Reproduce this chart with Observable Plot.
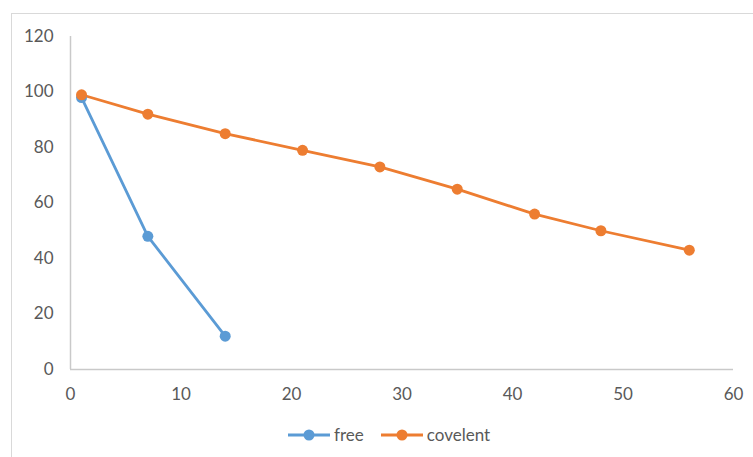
<!DOCTYPE html>
<html>
<head>
<meta charset="utf-8">
<script src="https://cdn.jsdelivr.net/npm/d3@7"></script>
<script src="https://cdn.jsdelivr.net/npm/@observablehq/plot@0.6"></script>
<style>
  html, body { margin: 0; padding: 0; background: #fff; }
  body { width: 753px; height: 457px; position: relative; overflow: hidden; font-family: Lato, "Open Sans", sans-serif; }
  #frame { position: absolute; left: 11px; top: 13px; width: 760px; height: 480px; border: 1.5px solid #D9D9D9; box-sizing: border-box; }
  #chart { position: absolute; left: 0; top: 0; }
  #legend { position: absolute; left: 288px; top: 424px; display: flex; align-items: center; font-size: 17px; color: #595959; }
  #legend .item { display: flex; align-items: center; margin-right: 17px; }
  #legend svg { margin-right: 4px; }
</style>
</head>
<body>
<div id="frame"></div>
<div id="chart"></div>
<div id="legend"></div>
<script>
// Days sampled and remaining activity (%) for each preparation
const freeDays = [1, 7, 14];
const freeValues = [98, 48, 12];
const covDays = [1, 7, 14, 21, 28, 35, 42, 48, 56];
const covValues = [99, 92, 85, 79, 73, 65, 56, 50, 43];
const seriesNames = ["free", "covelent"];
const seriesColors = ["#5B9BD5", "#ED7D31"];
const xTicks = [0, 10, 20, 30, 40, 50, 60];
const yTicks = [0, 20, 40, 60, 80, 100, 120];

const rows = [
  ...freeDays.map((d, i) => ({day: d, value: freeValues[i], series: seriesNames[0]})),
  ...covDays.map((d, i) => ({day: d, value: covValues[i], series: seriesNames[1]}))
];

const axisGray = "#C9C9C9";
const labelGray = "#595959";

const chart = Plot.plot({
  width: 753,
  height: 400,
  marginLeft: 70,
  marginRight: 20,
  marginTop: 36,
  marginBottom: 31,
  style: {fontFamily: "Lato, 'Open Sans', sans-serif", fontSize: "17px", color: labelGray, background: "transparent", overflow: "visible"},
  x: {domain: [0, 60], ticks: xTicks, label: null},
  y: {domain: [0, 120], ticks: yTicks, label: null},
  color: {domain: seriesNames, range: seriesColors},
  marks: [
    Plot.axisX({ticks: xTicks, tickSize: 0, tickPadding: 18, label: null, fill: labelGray}),
    Plot.axisY({ticks: yTicks, tickSize: 0, tickPadding: 17, label: null, fill: labelGray}),
    Plot.ruleX([0], {stroke: axisGray, strokeWidth: 1.5}),
    Plot.ruleY([0], {stroke: axisGray, strokeWidth: 1.5}),
    Plot.line(rows, {x: "day", y: "value", z: "series", stroke: "series", strokeWidth: 2.8}),
    Plot.dot(rows, {x: "day", y: "value", fill: "series", r: 5.5, stroke: null})
  ]
});
document.getElementById("chart").appendChild(chart);

// Legend: line-with-marker swatch followed by series name
const legend = d3.select("#legend");
seriesNames.forEach((name, i) => {
  const item = legend.append("div").attr("class", "item");
  const sw = item.append("svg").attr("width", 42).attr("height", 14);
  sw.append("line").attr("x1", 0).attr("x2", 42).attr("y1", 7).attr("y2", 7)
    .attr("stroke", seriesColors[i]).attr("stroke-width", 2.8);
  sw.append("circle").attr("cx", 21).attr("cy", 7).attr("r", 5.5).attr("fill", seriesColors[i]);
  item.append("span").text(name);
});
</script>
</body>
</html>
